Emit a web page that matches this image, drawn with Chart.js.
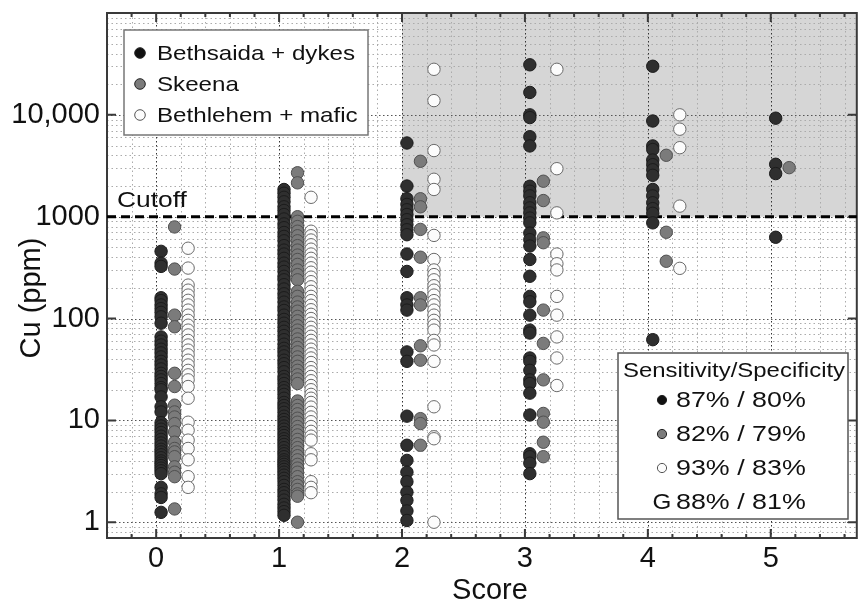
<!doctype html>
<html lang="en">
<head>
<meta charset="utf-8">
<title>Cu vs score</title>
<style>
  * { margin: 0; padding: 0; }
  body { background: #fff; }
  .chartBox { width: 864px; height: 603px; }
</style>
</head>
<body>
<div class="chartBox"><canvas id="myChart" width="864" height="603"></canvas></div>

<script src="https://cdn.jsdelivr.net/npm/chart.js"></script>
<script>
const scores = [0, 1, 2, 3, 4, 5]
const seriesNames = ['Bethsaida + dykes', 'Skeena', 'Bethlehem + mafic']

// Cu (ppm), one inner array per score 0..5
const bethsaidaCu = [
  [457, 350, 325, 160, 150, 136, 125, 115, 104, 90, 66, 60, 55, 50, 46, 42, 38, 35, 32, 29, 27, 25, 23, 21, 20,
   17, 13.6, 12.1, 9.5, 8.8, 8.2, 7.6, 7.0, 6.5, 6.0, 5.6, 5.2, 4.9, 4.6, 4.3, 4.0, 3.8, 3.6, 3.4, 3.2, 3.0,
   2.2, 1.9, 1.75, 1.25],
  [1850, 1700, 1550, 1400, 1250, 1150, 1050, 950, 850, 780, 700, 640, 580, 520, 470, 430, 390, 350, 320, 290,
   260, 240, 215, 195, 175, 160, 145, 130, 120, 108, 98, 90, 82, 75, 68, 62, 56, 51, 47, 43, 39, 36, 33, 30,
   27, 25, 23, 21, 19.5, 18, 16.5, 15, 14, 13, 12, 11, 10.2, 9.5, 8.8, 8.2, 7.6, 7.1, 6.6, 6.2, 5.8, 5.4, 5.0,
   4.7, 4.4, 4.1, 3.9, 3.7, 3.5, 3.3, 3.1, 2.9, 2.7, 2.5, 2.3, 2.1, 1.95, 1.8, 1.65, 1.5, 1.38, 1.27, 1.17],
  [5290, 2000, 1500, 1320, 1170, 1050, 935, 835, 745, 665, 430, 290, 160, 136, 121, 47, 38, 11, 5.7, 4.05,
   3.1, 2.5, 1.97, 1.64, 1.29, 1.04],
  [31000, 16600, 10000, 9400, 6100, 4950, 1990, 1780, 1600, 1370, 1220, 1090, 970, 870, 690, 595, 515, 380,
   260, 165, 146, 108, 77, 72, 41, 38, 31, 25, 23, 18.5, 11.3, 4.7, 4.4, 3.8, 3.0],
  [30000, 8700, 4950, 4570, 3600, 3240, 2890, 2550, 1850, 1600, 1370, 1200, 1080, 870, 62],
  [9270, 3270, 2650, 628]
]
const skeenaCu = [
  [793, 306, 108, 83, 29, 21.5, 14.1, 12.1, 10.8, 9.3, 7.7, 6.1, 5.3, 4.9, 4.4, 3.5, 3.1, 2.8, 1.35],
  [2700, 2150, 1000, 900, 800, 720, 650, 580, 520, 470, 420, 380, 340, 300, 270, 240, 185, 165, 145, 130,
   118, 105, 95, 85, 77, 70, 63, 57, 52, 47, 42, 38, 34, 31, 28, 25.5, 23, 15.5, 14, 12.8, 11.6, 10.5, 9.6,
   8.7, 7.9, 7.2, 6.5, 5.9, 5.4, 4.9, 4.5, 4.1, 3.7, 3.4, 3.1, 2.8, 2.5, 2.3, 2.1, 1.9, 1.8, 1.0],
  [3500, 1500, 1250, 750, 400, 160, 136, 54, 39, 10.4, 9.3, 5.7],
  [2230, 1440, 620, 555, 121, 57, 25, 11.7, 9.6, 6.1, 4.4],
  [4010, 703, 365],
  [3030]
]
const bethlehemCu = [
  [490, 313, 213, 190, 170, 151, 136, 121, 108, 96, 86, 77, 69, 61, 55, 49, 44, 39, 35, 31, 28, 25, 21.5,
   16.5, 9.6, 8.0, 6.4, 5.3, 4.1, 2.8, 2.2],
  [1550, 720, 650, 590, 530, 480, 430, 390, 350, 315, 285, 255, 230, 205, 185, 165, 150, 135, 122, 110, 100,
   90, 82, 74, 67, 61, 55, 50, 45, 41, 37, 33, 30, 27, 24.5, 22, 20, 18, 16.5, 15, 13.5, 12, 10.8, 9.7, 8.7,
   7.8, 7.0, 6.4, 4.7, 4.1, 2.5, 2.2, 1.95],
  [28000, 13800, 4460, 2330, 1850, 655, 380, 300, 270, 240, 210, 190, 170, 150, 136, 121, 108, 96, 86, 77,
   61, 55, 38, 13.6, 6.9, 6.6, 1.0],
  [28000, 2960, 1090, 430, 345, 300, 165, 108, 66, 41, 22],
  [10000, 7230, 4760, 1270, 311],
  []
]

const xTickValues = [0, 1, 2, 3, 4, 5]
const yTickValues = [1, 10, 100, 1000, 10000]
const yTickLabels = ['1', '10', '100', '1000', '10,000']
const cutoff = 1000
const statTitle = 'Sensitivity/Specificity'
const statRows = ['87% / 80%', '82% / 79%', '93% / 83%', '88% / 81%']

const FONT = "'Liberation Sans', Arial, sans-serif"
const offsets = [0.04, 0.15, 0.26]
const fills = ['#2f2f2f', '#7b7b7b', '#fcfcfc']
const strokes = ['#1c1c1c', '#505050', '#6a6a6a']

function toPoints(cu, off) {
  const pts = []
  cu.forEach((vals, i) => vals.forEach(v => pts.push({ x: scores[i] + off, y: v })))
  return pts
}

const allSeries = [bethsaidaCu, skeenaCu, bethlehemCu]
const data = {
  datasets: allSeries.map((cu, i) => ({
    label: seriesNames[i],
    data: toPoints(cu, offsets[i]),
    backgroundColor: fills[i],
    borderColor: strokes[i],
    borderWidth: 1,
    pointRadius: 6.2
  }))
}

function sText(ctx, text, x, y, sx, align) {
  ctx.save()
  ctx.translate(x, y)
  ctx.scale(sx, 1)
  ctx.textAlign = align
  ctx.fillText(text, 0, 0)
  ctx.restore()
}

function dot(ctx, x, y, r, i) {
  ctx.beginPath()
  ctx.arc(x, y, r, 0, Math.PI * 2)
  ctx.fillStyle = i === 0 ? '#111' : fills[i]
  ctx.fill()
  ctx.lineWidth = 1
  ctx.strokeStyle = i === 2 ? '#555' : '#222'
  ctx.stroke()
}

const backdrop = {
  id: 'backdrop',
  beforeDraw(chart) {
    const ctx = chart.ctx
    ctx.save()
    ctx.fillStyle = '#fff'
    ctx.fillRect(0, 0, chart.width, chart.height)
    ctx.restore()
  },
  beforeDatasetsDraw(chart) {
    const { ctx, chartArea: a, scales: { x, y } } = chart
    ctx.save()
    // shaded region above cutoff, score >= 2
    const x2 = x.getPixelForValue(2)
    const yc = y.getPixelForValue(cutoff)
    ctx.fillStyle = '#d6d6d6'
    ctx.fillRect(x2, a.top, a.right - x2, yc - a.top)

    // minor grid
    ctx.lineWidth = 1
    ctx.strokeStyle = '#ababab'
    ctx.setLineDash([1.5, 3])
    for (let k = -2; k <= 28; k++) {
      if (k % 5 === 0) continue
      const px = Math.round(x.getPixelForValue(k / 5)) + 0.5
      if (px <= a.left || px >= a.right) continue
      ctx.beginPath(); ctx.moveTo(px, a.top); ctx.lineTo(px, a.bottom); ctx.stroke()
    }
    for (let e = -1; e <= 4; e++) {
      for (let m = 2; m <= 9; m++) {
        const py = Math.round(y.getPixelForValue(m * Math.pow(10, e))) + 0.5
        if (py <= a.top || py >= a.bottom) continue
        ctx.beginPath(); ctx.moveTo(a.left, py); ctx.lineTo(a.right, py); ctx.stroke()
      }
    }
    // major grid
    ctx.strokeStyle = '#333'
    ctx.setLineDash([1.5, 2.5])
    xTickValues.forEach(v => {
      const px = Math.round(x.getPixelForValue(v)) + 0.5
      ctx.beginPath(); ctx.moveTo(px, a.top); ctx.lineTo(px, a.bottom); ctx.stroke()
    })
    ctx.strokeStyle = '#555'
    yTickValues.forEach(v => {
      const py = Math.round(y.getPixelForValue(v)) + 0.5
      ctx.beginPath(); ctx.moveTo(a.left, py); ctx.lineTo(a.right, py); ctx.stroke()
    })

    // frame and inward ticks
    ctx.setLineDash([])
    ctx.strokeStyle = '#3a3a3a'
    ctx.lineWidth = 2
    ctx.strokeRect(a.left, a.top, a.right - a.left, a.bottom - a.top)
    for (let k = -2; k <= 28; k++) {
      const px = x.getPixelForValue(k / 5)
      if (px <= a.left || px >= a.right) continue
      const len = k % 5 === 0 ? 9 : 4
      ctx.beginPath()
      ctx.moveTo(px, a.bottom); ctx.lineTo(px, a.bottom - len)
      ctx.moveTo(px, a.top); ctx.lineTo(px, a.top + len)
      ctx.stroke()
    }
    yTickValues.forEach(v => {
      const py = y.getPixelForValue(v)
      ctx.beginPath()
      ctx.moveTo(a.left, py); ctx.lineTo(a.left + 9, py)
      ctx.moveTo(a.right, py); ctx.lineTo(a.right - 9, py)
      ctx.stroke()
    })

    // cutoff line
    ctx.strokeStyle = '#000'
    ctx.lineWidth = 3
    ctx.setLineDash([9, 5])
    ctx.beginPath(); ctx.moveTo(a.left, yc); ctx.lineTo(a.right, yc); ctx.stroke()
    ctx.setLineDash([])
    ctx.fillStyle = '#111'
    ctx.font = '22px ' + FONT
    ctx.textBaseline = 'alphabetic'
    sText(ctx, 'Cutoff', a.left + 10, yc - 10, 1.2, 'left')
    ctx.restore()
  },
  afterDatasetsDraw(chart) {
    const ctx = chart.ctx
    ctx.save()
    // series legend
    ctx.fillStyle = '#fff'
    ctx.fillRect(124, 30, 244, 105)
    ctx.strokeStyle = '#777'
    ctx.lineWidth = 1.5
    ctx.strokeRect(124, 30, 244, 105)
    ctx.font = '21px ' + FONT
    ctx.textBaseline = 'middle'
    seriesNames.forEach((name, i) => {
      const yy = 53 + i * 31
      dot(ctx, 140, yy, 5.3, i)
      ctx.fillStyle = '#111'
      sText(ctx, name, 157, yy + 1, 1.15, 'left')
    })

    // sensitivity / specificity box
    ctx.fillStyle = '#fff'
    ctx.fillRect(618, 353, 230, 166)
    ctx.strokeStyle = '#555'
    ctx.lineWidth = 1.5
    ctx.strokeRect(618, 353, 230, 166)
    ctx.fillStyle = '#111'
    ctx.font = '21px ' + FONT
    sText(ctx, statTitle, 734, 371, 1.14, 'center')
    ctx.font = '22px ' + FONT
    statRows.forEach((row, i) => {
      const yy = 400 + i * 34
      if (i < 3) {
        dot(ctx, 662, yy, 4.6, i)
      } else {
        ctx.fillStyle = '#111'
        sText(ctx, 'G', 662, yy + 1, 1.1, 'center')
      }
      ctx.fillStyle = '#111'
      sText(ctx, row, 676, yy + 1, 1.22, 'left')
    })

    // axis titles
    ctx.font = '29px ' + FONT
    ctx.fillStyle = '#111'
    ctx.textAlign = 'center'
    ctx.fillText('Score', 490, 591)
    ctx.save()
    ctx.translate(32, 298)
    ctx.rotate(-Math.PI / 2)
    ctx.fillText('Cu (ppm)', 0, 0)
    ctx.restore()
    ctx.restore()
  }
}

const config = {
  type: 'scatter',
  data: data,
  options: {
    responsive: false,
    animation: false,
    layout: { padding: { left: 0, right: 6, top: 13, bottom: 0 } },
    plugins: {
      legend: { display: false },
      tooltip: { enabled: false }
    },
    scales: {
      x: {
        type: 'linear',
        min: -0.4,
        max: 5.7,
        grid: { display: false, drawTicks: false },
        border: { display: false },
        afterBuildTicks: s => { s.ticks = xTickValues.map(v => ({ value: v })) },
        afterFit: s => { s.height = 65; s.paddingLeft = 0; s.paddingRight = 0 },
        ticks: {
          autoSkip: false,
          maxRotation: 0,
          padding: 4,
          color: '#111',
          font: { family: FONT, size: 29 },
          callback: v => String(v)
        }
      },
      y: {
        type: 'logarithmic',
        min: 0.7,
        max: 100000,
        grid: { display: false, drawTicks: false },
        border: { display: false },
        afterBuildTicks: s => { s.ticks = yTickValues.map(v => ({ value: v })) },
        afterFit: s => { s.width = 107; s.paddingTop = 0; s.paddingBottom = 0 },
        ticks: {
          autoSkip: false,
          padding: 7,
          color: '#111',
          font: { family: FONT, size: 29 },
          callback: v => yTickLabels[yTickValues.indexOf(v)] ?? ''
        }
      }
    }
  },
  plugins: [backdrop]
}

const myChart = new Chart(document.getElementById('myChart'), config)
</script>
</body>
</html>
